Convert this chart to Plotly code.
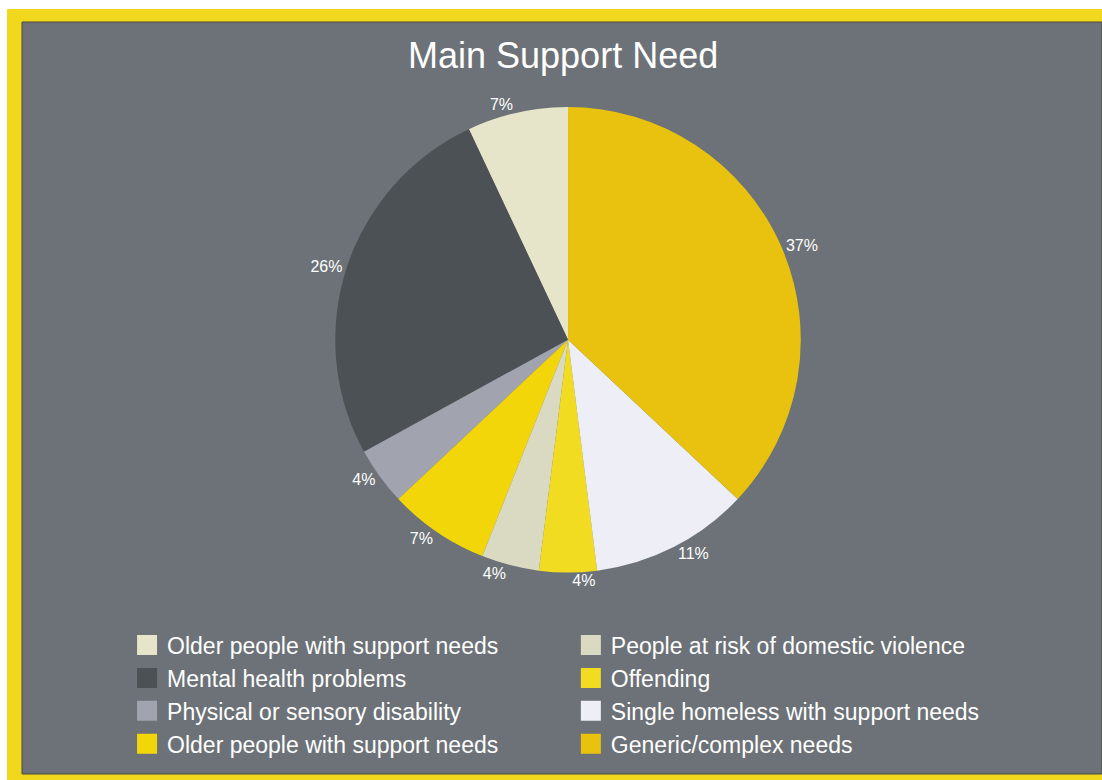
import plotly.graph_objects as go

# Slices listed counter-clockwise from 12 o'clock
labels = [
    "Older people with support needs",
    "Mental health problems",
    "Physical or sensory disability",
    "Older people with support needs ",
    "People at risk of domestic violence",
    "Offending",
    "Single homeless with support needs",
    "Generic/complex needs",
]
values = [7, 26, 4, 7, 4, 4, 11, 37]
colors = [
    "#e7e5c9",
    "#4c5156",
    "#a1a4ae",
    "#f3d60a",
    "#dad9c1",
    "#f2dc22",
    "#eeeef6",
    "#e8c20e",
]

# Legend columns (indices into the slice lists)
legend_col1 = [0, 1, 2, 3]
legend_col2 = [4, 5, 6, 7]

FONT = "Liberation Sans, Arial, sans-serif"
GRAY = "#6c7277"
YELLOW = "#f1d81c"

fig = go.Figure()

fig.add_trace(go.Pie(
    labels=labels,
    values=values,
    marker=dict(colors=colors, line=dict(width=0)),
    sort=False,
    direction="counterclockwise",
    rotation=-25.2,
    textinfo="percent",
    textposition="outside",
    textfont=dict(color="white", size=16, family=FONT),
    showlegend=False,
    domain=dict(x=[0.292, 0.7267], y=[0.268, 0.887]),
))

# Legend entries built from placeholder square markers, split over two legends
for legend_name, idxs in (("legend", legend_col1), ("legend2", legend_col2)):
    for i in idxs:
        fig.add_trace(go.Scatter(
            x=[None], y=[None],
            mode="markers",
            name=labels[i].strip(),
            marker=dict(symbol="square", size=16, color=colors[i],
                        line=dict(color=colors[i], width=4)),
            legend=legend_name,
            showlegend=True,
            hoverinfo="skip",
        ))

legend_style = dict(
    font=dict(color="white", size=23, family=FONT),
    bgcolor="rgba(0,0,0,0)",
    yanchor="top",
    xanchor="left",
    y=0.2,
    tracegroupgap=0,
    itemwidth=30,
)

fig.update_layout(
    width=1102,
    height=780,
    margin=dict(l=22, r=8, t=22, b=6),
    paper_bgcolor="white",
    plot_bgcolor="rgba(0,0,0,0)",
    xaxis=dict(visible=False),
    yaxis=dict(visible=False),
    title=dict(
        text="Main Support Need",
        x=0.511, xanchor="center",
        y=1 - 55 / 780, yanchor="middle", yref="container",
        font=dict(color="white", size=36, family=FONT),
    ),
    legend=dict(x=0.098, **legend_style),
    legend2=dict(x=0.512, **legend_style),
    shapes=[
        dict(type="rect", xref="paper", yref="paper",
             x0=-0.014, x1=1.0075, y0=-0.008, y1=1.0173,
             fillcolor=YELLOW, line=dict(width=0), layer="below"),
        dict(type="rect", xref="paper", yref="paper",
             x0=0, x1=1.0075, y0=0, y1=1,
             fillcolor=GRAY, line=dict(color="#4a4a3c", width=1), layer="below"),
    ],
)

fig.write_html("out.html")
